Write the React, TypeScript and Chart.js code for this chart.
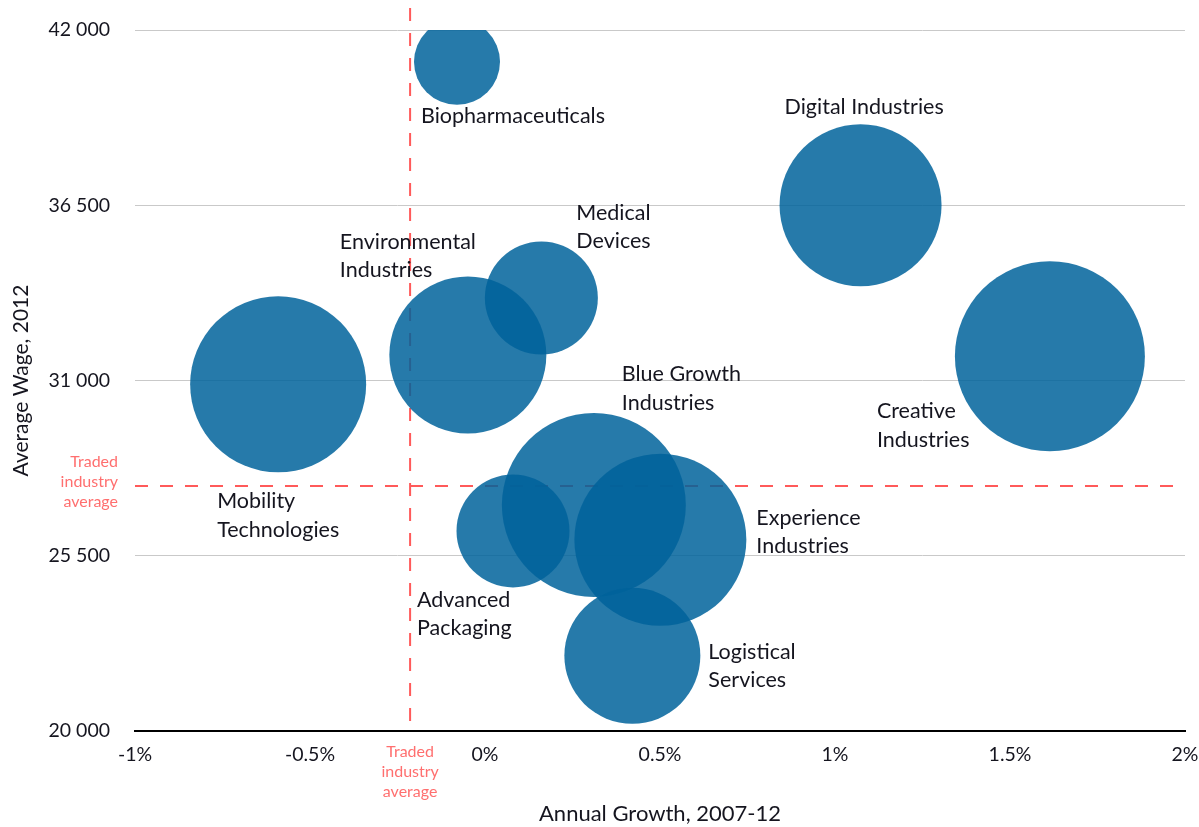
import React, { useEffect, useRef } from 'react';
import { Chart, registerables } from 'chart.js';

Chart.register(...registerables);

// ---------- data ----------
const industries = [
  'Biopharmaceuticals',
  'Digital Industries',
  'Medical Devices',
  'Environmental Industries',
  'Mobility Technologies',
  'Blue Growth Industries',
  'Creative Industries',
  'Experience Industries',
  'Advanced Packaging',
  'Logistical Services',
];
const labelLines = [
  ['Biopharmaceuticals'],
  ['Digital Industries'],
  ['Medical', 'Devices'],
  ['Environmental', 'Industries'],
  ['Mobility', 'Technologies'],
  ['Blue Growth', 'Industries'],
  ['Creative', 'Industries'],
  ['Experience', 'Industries'],
  ['Advanced', 'Packaging'],
  ['Logistical', 'Services'],
];
const annualGrowth = [-0.08, 1.073, 0.161, -0.049, -0.591, 0.311, 1.614, 0.501, 0.08, 0.421];
const averageWage = [41000, 36500, 33590, 31800, 30880, 27090, 31760, 26000, 26280, 22360];
const bubbleSize = [43, 81, 56.5, 78.5, 88, 92, 95, 86, 56.5, 68];
const xTickValues = [-1, -0.5, 0, 0.5, 1, 1.5, 2];
const yTickValues = [20000, 25500, 31000, 36500, 42000];
const tradedAvgGrowth = -0.214;
const tradedAvgWage = 27690;
const tradedAvgText = ['Traded', 'industry', 'average'];

// ---------- layout (label offsets from bubble centre, px) ----------
const labelOffsets = [
  [-36, 54], [-76, -98], [35, -85], [-128, -113], [-61, 117],
  [28, -131], [-173, 55], [96, -22], [-96, 69], [76, -4],
];
const LINE_H = 28.5;
const FONT = 'Lato, "Open Sans", sans-serif';
const RED = 'rgba(255, 90, 90, 1)';
const RED_TEXT = '#ff6f6f';
const TEXT = '#15151f';

const fmtThousands = (v: number) => String(v).replace(/\B(?=(\d{3})+(?!\d))/g, ' ');

const overlayPlugin = {
  id: 'overlay',
  beforeDatasetsDraw(chart: any) {
    const { ctx, chartArea, scales } = chart;
    const xp = scales.x.getPixelForValue(tradedAvgGrowth);
    const yp = scales.y.getPixelForValue(tradedAvgWage);
    ctx.save();
    ctx.strokeStyle = RED;
    ctx.lineWidth = 2;
    ctx.setLineDash([13, 12]);
    ctx.beginPath();
    ctx.moveTo(xp, chartArea.top - 22);
    ctx.lineTo(xp, chartArea.bottom);
    ctx.stroke();
    ctx.beginPath();
    ctx.moveTo(chartArea.left, yp);
    ctx.lineTo(chartArea.right, yp);
    ctx.stroke();
    ctx.restore();
  },
  afterDraw(chart: any) {
    const { ctx, chartArea, scales } = chart;
    const xp = scales.x.getPixelForValue(tradedAvgGrowth);
    const yp = scales.y.getPixelForValue(tradedAvgWage);
    ctx.save();
    // traded industry average labels
    ctx.fillStyle = RED_TEXT;
    ctx.font = `16px ${FONT}`;
    ctx.textBaseline = 'middle';
    ctx.textAlign = 'right';
    tradedAvgText.forEach((t, i) => ctx.fillText(t, chartArea.left - 17, yp - 24 + i * 20));
    ctx.textAlign = 'center';
    tradedAvgText.forEach((t, i) => ctx.fillText(t, xp, chartArea.bottom + 21 + i * 20));

    // bubble labels
    const meta = chart.getDatasetMeta(0);
    ctx.fillStyle = TEXT;
    ctx.font = `21.5px ${FONT}`;
    ctx.textAlign = 'left';
    meta.data.forEach((el: any, i: number) => {
      const [dx, dy] = labelOffsets[i];
      labelLines[i].forEach((line, j) => {
        ctx.fillText(line, el.x + dx, el.y + dy + j * LINE_H);
      });
    });
    ctx.restore();
  },
};

export default function App() {
  const canvasRef = useRef<HTMLCanvasElement | null>(null);

  useEffect(() => {
    const canvas = canvasRef.current;
    if (!canvas) return;
    const chart = new Chart(canvas, {
      type: 'bubble',
      data: {
        labels: industries,
        datasets: [
          {
            label: 'Industries',
            data: industries.map((_, i) => ({ x: annualGrowth[i], y: averageWage[i], r: bubbleSize[i] })),
            backgroundColor: 'rgba(0, 99, 155, 0.85)',
            borderWidth: 0,
            hoverBorderWidth: 0,
          },
        ],
      },
      options: {
        responsive: false,
        animation: false,
        events: [],
        layout: { autoPadding: false, padding: { top: 30, right: 14, left: 0, bottom: 0 } },
        plugins: {
          legend: { display: false },
          tooltip: { enabled: false },
        },
        scales: {
          x: {
            type: 'linear',
            min: -1,
            max: 2,
            afterBuildTicks: (s: any) => { s.ticks = xTickValues.map((v) => ({ value: v })); },
            afterFit: (s: any) => {
              s.height = 96;
              s.paddingLeft = 0;
              s.paddingRight = 0;
            },
            grid: { display: false, drawTicks: false },
            border: { display: true, color: '#000', width: 2 },
            ticks: {
              padding: 12,
              color: TEXT,
              font: { family: FONT, size: 19.5 },
              callback: (v: any) => `${v}%`,
            },
            title: {
              display: true,
              text: 'Annual Growth, 2007-12',
              color: TEXT,
              font: { family: FONT, size: 22 },
              padding: { top: 0, bottom: 0 },
            },
          },
          y: {
            type: 'linear',
            min: 20000,
            max: 42000,
            afterBuildTicks: (s: any) => { s.ticks = yTickValues.map((v) => ({ value: v })); },
            afterFit: (s: any) => {
              s.width = 135;
              s.paddingTop = 0;
              s.paddingBottom = 0;
            },
            grid: { color: '#c9c9c9', lineWidth: 1, drawTicks: false },
            border: { display: false },
            ticks: {
              padding: 25,
              color: TEXT,
              font: { family: FONT, size: 19.5 },
              callback: (v: any) => fmtThousands(v),
            },
            title: {
              display: true,
              text: 'Average Wage, 2012',
              color: TEXT,
              font: { family: FONT, size: 21 },
              padding: { top: 9, bottom: 0 },
            },
          },
        },
      },
      plugins: [overlayPlugin],
    });
    return () => chart.destroy();
  }, []);

  return (
    <div style={{ position: 'absolute', left: 0, top: 0, width: 1199, height: 827, background: '#fff' }}>
      <canvas ref={canvasRef} width={1199} height={827} style={{ display: 'block' }} />
    </div>
  );
}
